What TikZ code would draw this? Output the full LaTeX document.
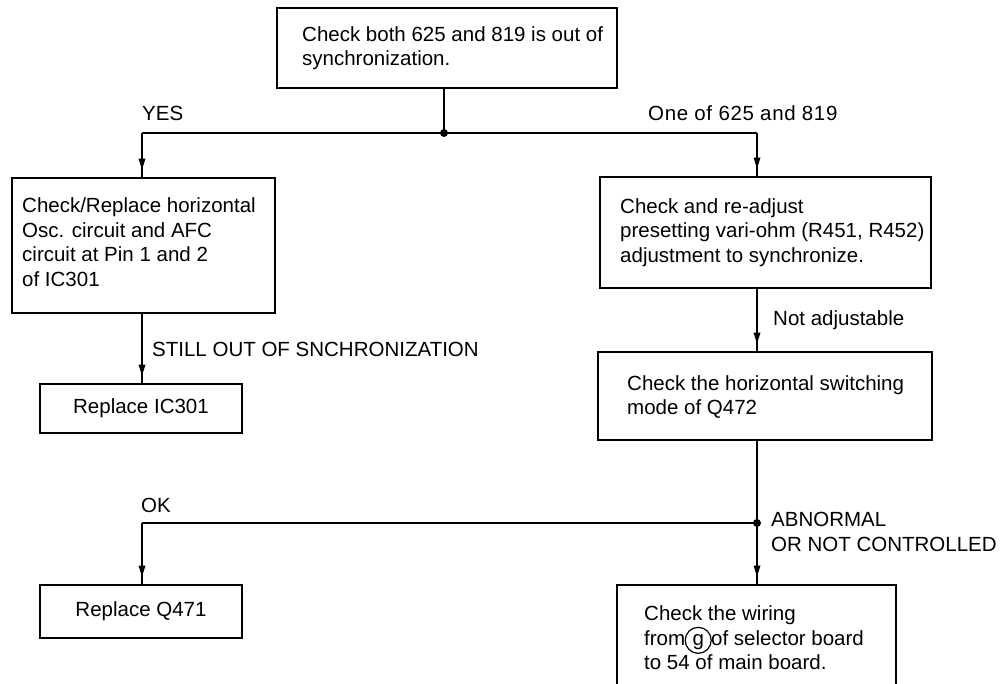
\documentclass[tikz,border=0pt]{standalone}
\usepackage{fontspec}
\usepackage{pict2e}
\setmainfont{Liberation Sans}
\usetikzlibrary{arrows.meta,decorations.markings}
\newcommand{\circg}{\makebox[26pt][l]{\begin{picture}(0,0)\linethickness{1.2pt}\put(13,5){\circle{26}}\end{picture}\makebox[26pt][c]{g}}}
\begin{document}
\begin{tikzpicture}[x=1pt,y=-1pt,
  font=\fontsize{20.5pt}{24.5pt}\selectfont,
  box/.style={draw,line width=2.8pt,rectangle,inner sep=0pt},
  txt/.style={inner sep=0pt,anchor=west,align=left},
  lbl/.style={inner sep=0pt,anchor=base west},
  conn/.style={line width=2pt},
  arr/.style={conn,postaction={decorate},decoration={markings,mark=at position -7pt with {\fill (-11pt,-3.5pt) -- (0pt,0pt) -- (-11pt,3.5pt) -- cycle;}}},
  dot/.style={circle,fill,inner sep=0pt,minimum size=8pt}]
\useasboundingbox (0,0) rectangle (1004,683);
% boxes
\node[box,minimum width=340pt,minimum height=80pt] (top) at (447,48) {};
\node[txt] (topt) at (302,48) {Check both 625 and 819 is out of\\synchronization.};
\node[box,minimum width=263pt,minimum height=135pt] (l1) at (143.5,245.5) {};
\node[txt] (l1t) at (22,242) {Check/Replace horizontal\\Osc. circuit and AFC\\circuit at Pin 1 and 2\\of IC301};
\node[box,minimum width=202pt,minimum height=49pt] (ic) at (141,408.5) {Replace IC301};
\node[box,minimum width=331pt,minimum height=111pt] (r1) at (765.5,232.5) {};
\node[txt] (r1t) at (620,232.5) {Check and re-adjust\\presetting vari-ohm (R451, R452)\\adjustment to synchronize.};
\node[box,minimum width=334pt,minimum height=88pt] (r2) at (765,396) {};
\node[txt] (r2t) at (627,397) {Check the horizontal switching\\mode of Q472};
\node[box,minimum width=202pt,minimum height=53pt] (q) at (141,611.5) {Replace Q471};
\node[box,minimum width=279pt,minimum height=106pt] (b) at (756.5,638) {};
\node[txt] (bt) at (644,638) {Check the wiring\\from\circg of selector board\\to 54 of main board.};
% junctions
\node[dot] (j1) at (444,133) {};
\node[dot] (j2) at (757,523) {};
\coordinate (cl) at (142,133);
\coordinate (cr) at (757,133);
\coordinate (ok) at (142,523);
% connectors
\draw[conn] (j1 |- top.south) -- (j1.center);
\draw[conn] (cl) -- (cr);
\draw[arr] (cl) -- (cl |- l1.north);
\draw[arr] (cr) -- (cr |- r1.north);
\draw[arr] (l1.south -| cl) -- (ic.north -| cl);
\draw[arr] (r1.south -| cr) -- (r2.north -| cr);
\draw[conn] (r2.south -| cr) -- (j2.center);
\draw[arr] (j2.center) -- (b.north -| j2);
\draw[conn] (j2.center) -- (ok);
\draw[arr] (ok) -- (q.north -| ok);
% labels
\node[lbl] (yes) at (142,120) {YES};
\node[lbl,font=\fontsize{20.5pt}{24.5pt}\selectfont\addfontfeatures{LetterSpace=3}] (one) at (648,120) {One of 625 and 819};
\node[lbl] (still) at (152,356) {STILL OUT OF SNCHRONIZATION};
\node[lbl] (nadj) at (773,325) {Not adjustable};
\node[lbl] (okl) at (141,512) {OK};
\node[inner sep=0pt,anchor=north west,align=left,font=\fontsize{20.5pt}{25pt}\selectfont] (abn) at (771,512) {ABNORMAL\\OR NOT CONTROLLED};
\end{tikzpicture}
\end{document}
